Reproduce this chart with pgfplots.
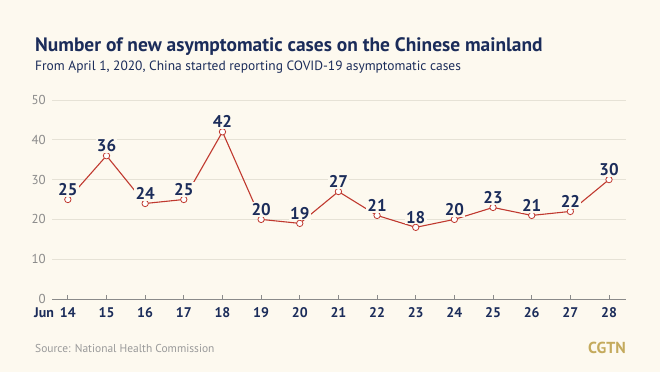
\documentclass[border=0pt]{standalone}
\usepackage{pgfplots}
\pgfplotsset{compat=1.18}
\usepackage{fontspec}
\setmainfont{PT Sans}
\definecolor{bgcol}{HTML}{FDF9EF}
\definecolor{navy}{HTML}{1B2C5A}
\definecolor{linered}{HTML}{C0392F}
\definecolor{gridcol}{HTML}{E6E2D6}
\definecolor{axgray}{HTML}{8A8A8A}
\definecolor{srcgray}{HTML}{9A9A9A}
\definecolor{gold}{HTML}{C4AA5C}
\begin{document}
\begin{tikzpicture}[x=1bp,y=1bp]
\fill[bgcol] (0,0) rectangle (660,372);
\path[use as bounding box] (0,0) rectangle (660,372);
\node[anchor=base west, inner sep=0, text=navy, font=\fontsize{19.5}{22}\selectfont\bfseries] at (35,321) {Number of new asymptomatic cases on the Chinese mainland};
\node[anchor=base west, inner sep=0, text=navy, font=\fontsize{13.5}{15}\selectfont] at (35,302) {From April 1, 2020, China started reporting COVID-19 asymptomatic cases};
\node[anchor=base west, inner sep=0, text=srcgray, font=\fontsize{11.5}{14}\selectfont] at (35,20) {Source: National Health Commission};
\node[anchor=base east, inner sep=0, text=gold, font=\fontsize{16}{18}\selectfont\bfseries] at (626,19) {CGTN};
\begin{axis}[
  at={(52bp,73bp)}, anchor=south west, scale only axis,
  width=574bp, height=199bp,
  xmin=13.59, xmax=28.44, ymin=0, ymax=50,
  axis y line=none, axis x line*=bottom,
  axis line style={draw=axgray, line width=0.8pt},
  x axis line style={-},
  xtick={14,...,28}, ytick={0,10,...,50},
  major tick length=4bp,
  xtick style={draw=axgray, line width=0.8pt},
  xticklabel style={text=navy, font=\fontsize{14}{16}\selectfont\bfseries, anchor=base, yshift=-18bp},
  /pgf/number format/assume math mode=true,
  clip=false,
]
\pgfplotsinvokeforeach{10,20,30,40,50}{
  \draw[gridcol, line width=0.8pt] (axis cs:13.59,#1) -- (axis cs:28.44,#1);
}
\pgfplotsinvokeforeach{0,10,20,30,40,50}{
  \node[anchor=east, text=axgray, font=\fontsize{13}{15}\selectfont, inner sep=0] at ([xshift=-6bp]axis cs:13.59,#1) {#1};
}
\node[anchor=base west, inner sep=0, text=navy, font=\fontsize{14}{16}\selectfont\bfseries] at ([xshift=-18bp,yshift=-18bp]axis cs:13.59,0) {Jun};
\addplot[color=linered, line width=1.1pt, mark=*, mark size=3.2bp,
  mark options={fill=white, draw=linered, line width=0.8pt},
  nodes near coords,
  every node near coord/.style={fill=bgcol, inner sep=1.2bp, text=navy, anchor=south, yshift=2.5bp, font=\fontsize{17}{19}\selectfont\bfseries},
] coordinates {
(14,25) (15,36) (16,24) (17,25) (18,42) (19,20) (20,19) (21,27) (22,21) (23,18) (24,20) (25,23) (26,21) (27,22) (28,30)
};
\end{axis}
\end{tikzpicture}
\end{document}
